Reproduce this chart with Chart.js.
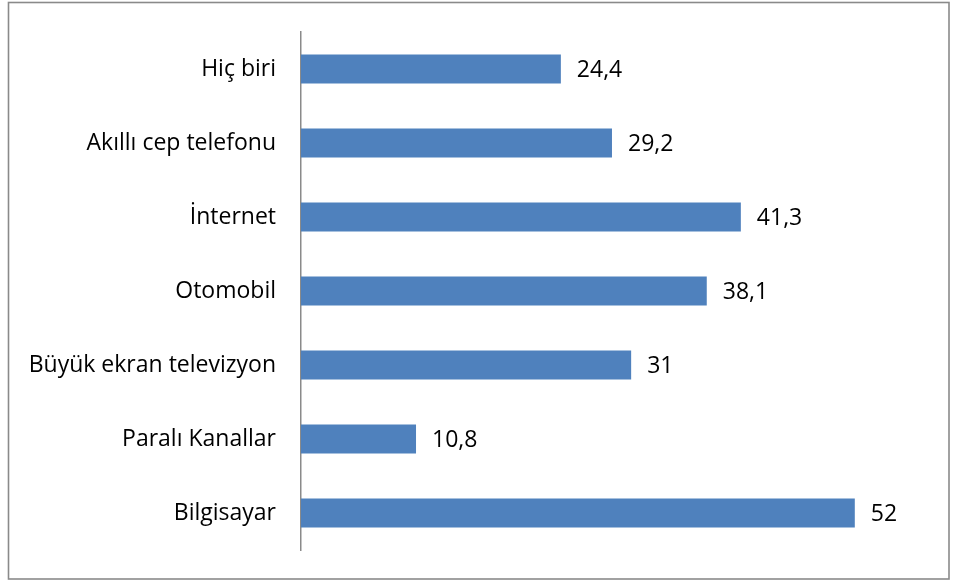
<!DOCTYPE html>
<html>
<head>
<meta charset="utf-8">
<script src="https://cdn.jsdelivr.net/npm/chart.js@4"></script>
<style>
    html, body { margin: 0; padding: 0; background: #fff; }
    #wrap { width: 958px; height: 581px; position: relative; }
</style>
</head>
<body>
<div id="wrap"><canvas id="ownershipChart"></canvas></div>
<script>
const categories = ["Hiç biri", "Akıllı cep telefonu", "İnternet", "Otomobil", "Büyük ekran televizyon", "Paralı Kanallar", "Bilgisayar"];
const values = [24.4, 29.2, 41.3, 38.1, 31, 10.8, 52];

const fontFamily = "'Open Sans', Lato, sans-serif";

// frame around the whole chart
const framePlugin = {
    id: "frame",
    beforeDraw(chart) {
        const ctx = chart.ctx;
        ctx.save();
        ctx.strokeStyle = "#8a8a8a";
        ctx.lineWidth = 1.6;
        ctx.strokeRect(8.5, 2.5, 940.5, 576.5);
        ctx.restore();
    }
};

// value labels at the end of each bar
const valueLabels = {
    id: "valueLabels",
    afterDatasetsDraw(chart) {
        const ctx = chart.ctx;
        const meta = chart.getDatasetMeta(0);
        ctx.save();
        ctx.fillStyle = "#000";
        ctx.font = "23px " + fontFamily;
        ctx.textAlign = "left";
        ctx.textBaseline = "middle";
        meta.data.forEach((bar, i) => {
            const text = String(values[i]).replace(".", ",");
            ctx.fillText(text, bar.x + 16, bar.y + 1);
        });
        ctx.restore();
    }
};

new Chart(document.getElementById("ownershipChart"), {
    type: "bar",
    data: {
        labels: categories,
        datasets: [{
            data: values,
            backgroundColor: "#4f81bd",
            borderWidth: 0,
            categoryPercentage: 1,
            barPercentage: 0.39
        }]
    },
    options: {
        indexAxis: "y",
        responsive: true,
        maintainAspectRatio: false,
        animation: false,
        layout: {
            padding: { top: 32, bottom: 31, right: 18, left: 0 }
        },
        plugins: {
            legend: { display: false },
            tooltip: { enabled: false }
        },
        scales: {
            x: {
                display: false,
                min: 0,
                max: 60
            },
            y: {
                afterFit: (scale) => {
                    scale.width = 301;
                    scale.paddingTop = 0;
                    scale.paddingBottom = 0;
                },
                grid: { display: false, drawTicks: false },
                border: { display: true, color: "#8a8a8a", width: 1.5 },
                ticks: {
                    color: "#000",
                    padding: 25,
                    font: { family: fontFamily, size: 23 }
                }
            }
        }
    },
    plugins: [framePlugin, valueLabels]
});
</script>
</body>
</html>
